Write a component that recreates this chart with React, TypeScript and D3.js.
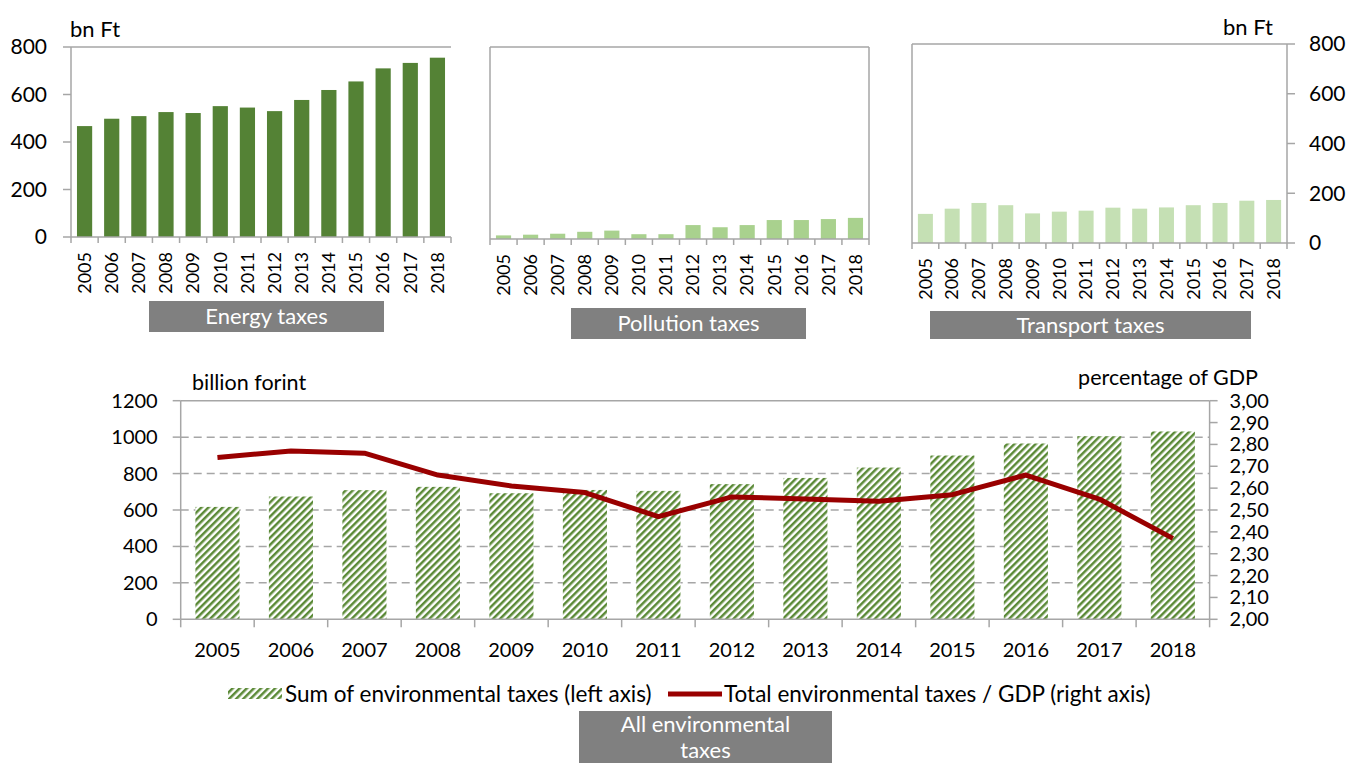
import React, { useEffect, useRef } from "react";
import * as d3 from "d3";

const years = ["2005", "2006", "2007", "2008", "2009", "2010", "2011", "2012", "2013", "2014", "2015", "2016", "2017", "2018"];
const energyTaxes = [467, 498, 509, 526, 522, 551, 545, 530, 577, 619, 655, 710, 733, 755];
const pollutionTaxes = [15, 18, 22, 30, 35, 20, 20, 58, 49, 58, 79, 79, 83, 88];
const transportTaxes = [117, 138, 161, 152, 119, 126, 130, 142, 138, 143, 152, 161, 170, 173];
const totalTaxes = [617, 674, 709, 727, 692, 710, 705, 742, 776, 833, 899, 965, 1005, 1031];
const gdpShare = [2.74, 2.77, 2.76, 2.66, 2.61, 2.58, 2.47, 2.56, 2.55, 2.54, 2.57, 2.66, 2.55, 2.37];
const smallTicks = [0, 200, 400, 600, 800];
const leftTicks = [0, 200, 400, 600, 800, 1000, 1200];
const rightTicks = [2.0, 2.1, 2.2, 2.3, 2.4, 2.5, 2.6, 2.7, 2.8, 2.9, 3.0];

const FONT = "Lato, 'Open Sans', sans-serif";
const AXIS = "#a6a6a6";
const WORD = 22; // size for words
const NUM = 20; // size for tick numbers

interface Panel {
  values: number[];
  color: string;
  x0: number;
  x1: number;
  top: number;
  bottom: number;
  axis: "left" | "right" | "none";
  rightBorder: boolean;
  label: string;
  box: [number, number, number, number];
}

const panels: Panel[] = [
  { values: energyTaxes, color: "#548235", x0: 71, x1: 451, top: 47, bottom: 237, axis: "left", rightBorder: false, label: "Energy taxes", box: [149, 301, 384, 332] },
  { values: pollutionTaxes, color: "#a9d18e", x0: 490, x1: 869, top: 47, bottom: 239, axis: "none", rightBorder: true, label: "Pollution taxes", box: [571, 308, 806, 339] },
  { values: transportTaxes, color: "#c5e0b4", x0: 912, x1: 1287, top: 44, bottom: 243, axis: "right", rightBorder: true, label: "Transport taxes", box: [930, 311, 1251, 339] },
];

const App: React.FC = () => {
  const svgRef = useRef<SVGSVGElement | null>(null);

  useEffect(() => {
    if (!svgRef.current) return;
    const svg = d3.select(svgRef.current);
    svg.selectAll("*").remove();
    svg.style("font-family", FONT);

    // hatch pattern for the total bars
    const defs = svg.append("defs");
    const pat = defs
      .append("pattern")
      .attr("id", "hatch")
      .attr("patternUnits", "userSpaceOnUse")
      .attr("width", 5)
      .attr("height", 5)
      .attr("patternTransform", "rotate(45)");
    pat.append("rect").attr("width", 5).attr("height", 5).attr("fill", "#ffffff");
    pat.append("rect").attr("width", 2.5).attr("height", 5).attr("fill", "#5b8a37");

    // three small panels
    panels.forEach((p) => {
      const g = svg.append("g");
      const x = d3.scaleBand<string>().domain(years).range([p.x0, p.x1]).paddingInner(0.44).paddingOuter(0.22);
      const y = d3.scaleLinear().domain([0, 800]).range([p.bottom, p.top]);
      const step = (p.x1 - p.x0) / years.length;

      g.selectAll("rect.bar")
        .data(p.values)
        .enter()
        .append("rect")
        .attr("x", (_, i) => x(years[i])!)
        .attr("y", (d) => y(d))
        .attr("width", x.bandwidth())
        .attr("height", (d) => p.bottom - y(d))
        .attr("fill", p.color);

      const line = (x1: number, y1: number, x2: number, y2: number) =>
        g.append("line").attr("x1", x1).attr("y1", y1).attr("x2", x2).attr("y2", y2).attr("stroke", AXIS).attr("stroke-width", 1.5);

      line(p.x0, p.top, p.x1, p.top);
      line(p.x0, p.top, p.x0, p.bottom);
      if (p.rightBorder) line(p.x1, p.top, p.x1, p.bottom);
      line(p.x0, p.bottom, p.x1, p.bottom);
      d3.range(years.length + 1).forEach((i) => line(p.x0 + i * step, p.bottom, p.x0 + i * step, p.bottom + 6));

      if (p.axis === "left") {
        smallTicks.forEach((t) => {
          line(p.x0 - 8, y(t), p.x0, y(t));
          g.append("text").attr("x", p.x0 - 24).attr("y", y(t)).attr("dy", "0.35em").attr("text-anchor", "end").attr("font-size", NUM + 1).text(t);
        });
        g.append("text").attr("x", p.x0 - 1).attr("y", 37).attr("font-size", WORD).text("bn Ft");
      } else if (p.axis === "right") {
        smallTicks.forEach((t) => {
          line(p.x1, y(t), p.x1 + 8, y(t));
          g.append("text").attr("x", p.x1 + 22).attr("y", y(t)).attr("dy", "0.35em").attr("font-size", NUM + 1).text(t);
        });
        g.append("text").attr("x", p.x1 - 14).attr("y", 35).attr("text-anchor", "end").attr("font-size", WORD).text("bn Ft");
      }

      years.forEach((yr) => {
        const cx = x(yr)! + x.bandwidth() / 2;
        g.append("text")
          .attr("transform", `translate(${cx},${p.bottom + 15}) rotate(-90)`)
          .attr("text-anchor", "end")
          .attr("dy", "0.35em")
          .attr("font-size", 18)
          .text(yr);
      });

      const [bx0, by0, bx1, by1] = p.box;
      g.append("rect").attr("x", bx0).attr("y", by0).attr("width", bx1 - bx0).attr("height", by1 - by0).attr("fill", "#808080");
      g.append("text")
        .attr("x", (bx0 + bx1) / 2)
        .attr("y", (by0 + by1) / 2)
        .attr("dy", "0.35em")
        .attr("text-anchor", "middle")
        .attr("fill", "#ffffff")
        .attr("font-size", WORD)
        .text(p.label);
    });

    // bottom combined chart
    const L = 180.7;
    const R = 1209.6;
    const T = 400.7;
    const B = 619.3;
    const g = svg.append("g");
    const x = d3.scaleBand<string>().domain(years).range([L, R]).paddingInner(0.4).paddingOuter(0.2);
    const yL = d3.scaleLinear().domain([0, 1200]).range([B, T]);
    const yR = d3.scaleLinear().domain([2, 3]).range([B, T]);
    const step = (R - L) / years.length;

    leftTicks.slice(1, -1).forEach((t) => {
      g.append("line").attr("x1", L).attr("x2", R).attr("y1", yL(t)).attr("y2", yL(t))
        .attr("stroke", AXIS).attr("stroke-width", 1.5).attr("stroke-dasharray", "8,5");
    });

    g.selectAll("rect.total")
      .data(totalTaxes)
      .enter()
      .append("rect")
      .attr("x", (_, i) => x(years[i])!)
      .attr("y", (d) => yL(d))
      .attr("width", x.bandwidth())
      .attr("height", (d) => B - yL(d))
      .attr("fill", "url(#hatch)");

    const ln = (x1: number, y1: number, x2: number, y2: number) =>
      g.append("line").attr("x1", x1).attr("y1", y1).attr("x2", x2).attr("y2", y2).attr("stroke", AXIS).attr("stroke-width", 1.5);

    ln(L, T, R, T);
    ln(L, T, L, B);
    ln(R, T, R, B);
    ln(L, B, R, B);
    d3.range(years.length + 1).forEach((i) => ln(L + i * step, B, L + i * step, B + 8));

    leftTicks.forEach((t) => {
      ln(L - 8, yL(t), L, yL(t));
      g.append("text").attr("x", L - 23).attr("y", yL(t)).attr("dy", "0.35em").attr("text-anchor", "end").attr("font-size", NUM).text(t);
    });
    rightTicks.forEach((t) => {
      ln(R, yR(t), R + 8, yR(t));
      g.append("text").attr("x", R + 20).attr("y", yR(t)).attr("dy", "0.35em").attr("font-size", NUM)
        .text(d3.format(".2f")(t).replace(".", ","));
    });

    years.forEach((yr) => {
      g.append("text").attr("x", x(yr)! + x.bandwidth() / 2).attr("y", 657).attr("text-anchor", "middle").attr("font-size", NUM).text(yr);
    });

    g.append("text").attr("x", 192).attr("y", 390).attr("font-size", WORD - 0.5).text("billion forint");
    g.append("text").attr("x", 1258).attr("y", 385).attr("text-anchor", "end").attr("font-size", WORD - 0.5).text("percentage of GDP");

    const lineGen = d3
      .line<number>()
      .x((_, i) => x(years[i])! + x.bandwidth() / 2)
      .y((d) => yR(d));
    g.append("path")
      .datum(gdpShare)
      .attr("d", lineGen)
      .attr("fill", "none")
      .attr("stroke", "#990000")
      .attr("stroke-width", 5)
      .attr("stroke-linejoin", "round");

    // legend
    g.append("rect").attr("x", 228).attr("y", 688).attr("width", 54).attr("height", 11).attr("fill", "url(#hatch)");
    g.append("text").attr("x", 285).attr("y", 702).attr("font-size", WORD + 0.5).text("Sum of environmental taxes (left axis)");
    g.append("line").attr("x1", 668).attr("x2", 722).attr("y1", 694).attr("y2", 694).attr("stroke", "#990000").attr("stroke-width", 5);
    g.append("text").attr("x", 724).attr("y", 702).attr("font-size", WORD + 0.5).text("Total environmental taxes / GDP (right axis)");

    g.append("rect").attr("x", 579).attr("y", 711).attr("width", 253).attr("height", 60).attr("fill", "#808080");
    g.append("text").attr("x", 705.5).attr("y", 724).attr("dy", "0.35em").attr("text-anchor", "middle").attr("fill", "#ffffff").attr("font-size", WORD).text("All environmental");
    g.append("text").attr("x", 705.5).attr("y", 750).attr("dy", "0.35em").attr("text-anchor", "middle").attr("fill", "#ffffff").attr("font-size", WORD).text("taxes");
  }, []);

  return <svg ref={svgRef} width={1348} height={763} style={{ position: "absolute", left: 0, top: 0, background: "#fff" }}></svg>;
};

export default App;
